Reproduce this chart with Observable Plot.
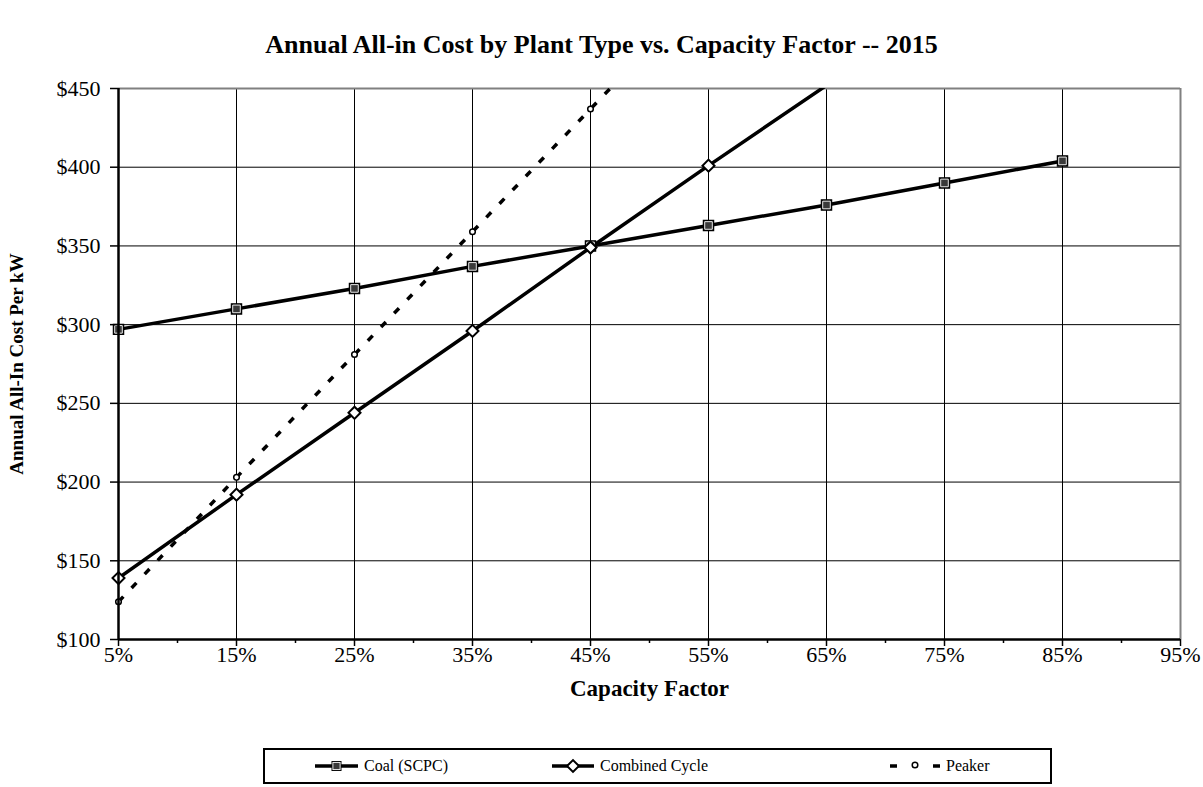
<!DOCTYPE html>
<html><head><meta charset="utf-8">
<script src="https://cdn.jsdelivr.net/npm/d3@7"></script>
<script src="https://cdn.jsdelivr.net/npm/@observablehq/plot@0.6"></script>
<style>
body{margin:0;background:#fff;font-family:"Liberation Serif","Times New Roman",serif;}
#title{width:1203px;height:70px;box-sizing:border-box;padding-top:31px;text-align:center;font-weight:bold;font-size:26px;line-height:28px;}
#chart{height:640px;}
#chart svg{display:block;}
#legend{position:relative;margin-left:263px;margin-top:38px;width:785px;height:32px;border:2px solid #000;}
.item{position:absolute;top:0;height:32px;display:flex;align-items:center;font-size:16px;}
.item svg{display:block;}
</style></head>
<body>
<div id="title">Annual All-in Cost by Plant Type vs. Capacity Factor -- 2015</div>
<div id="chart"></div>
<div id="legend"></div>
<script>
// ---- data ----
const capacity = [5, 15, 25, 35, 45, 55, 65, 75, 85];           // % capacity factor
const coal = [297, 310, 323, 337, 350, 363, 376, 390, 404];      // Coal (SCPC)
const combined = [139, 192, 244, 296, 349, 401, 452];            // Combined Cycle (5%..65%)
const peaker = [124, 203, 281, 359, 437, 515];                   // Peaker (5%..55%)
const xTicks = [5, 15, 25, 35, 45, 55, 65, 75, 85, 95];
const xMinor = [10, 20, 30, 40, 50, 60, 70, 80, 90];
const yTicks = [100, 150, 200, 250, 300, 350, 400, 450];
const seriesNames = ["Coal (SCPC)", "Combined Cycle", "Peaker"];

const coalData = capacity.map((c, i) => ({x: c, y: coal[i]}));
const ccData = combined.map((v, i) => ({x: capacity[i], y: v}));
const pkData = peaker.map((v, i) => ({x: capacity[i], y: v}));
const inside = d => d.y <= 450;

const fontFam = "Liberation Serif, Times New Roman, serif";

const chart = Plot.plot({
  width: 1203,
  height: 640,
  marginLeft: 118,
  marginRight: 23,
  marginTop: 18,
  marginBottom: 71,
  style: {fontFamily: fontFam, fontSize: "22px", background: "white", color: "black"},
  x: {type: "linear", domain: [5, 95]},
  y: {type: "linear", domain: [100, 450]},
  marks: [
    Plot.gridX(xTicks.filter(t => t < 95), {stroke: "black", strokeOpacity: 1, strokeWidth: 1}),
    Plot.gridY(yTicks.filter(t => t > 100 && t < 450), {stroke: "black", strokeOpacity: 1, strokeWidth: 1}),
    Plot.ruleY([450], {stroke: "#808080", strokeWidth: 2}),
    Plot.ruleX([95], {stroke: "#808080", strokeWidth: 2}),
    Plot.line(pkData, {x: "x", y: "y", stroke: "black", strokeWidth: 3.5, strokeDasharray: "7,12", strokeLinecap: "butt", clip: true}),
    Plot.line(coalData, {x: "x", y: "y", stroke: "black", strokeWidth: 3.5, clip: true}),
    Plot.line(ccData, {x: "x", y: "y", stroke: "black", strokeWidth: 3.5, clip: true}),
    Plot.dot(pkData.filter(inside), {x: "x", y: "y", r: 2.8, fill: "white", stroke: "black", strokeWidth: 1.5}),
    Plot.dot(coalData.filter(inside), {x: "x", y: "y", symbol: "square", r: 5.8, fill: "black", stroke: "black", strokeWidth: 1.2}),
    Plot.dot(coalData.filter(inside), {x: "x", y: "y", symbol: "square", r: 4.3, fill: "#3a3a3a", stroke: "white", strokeWidth: 0.9}),
    Plot.dot(ccData.filter(inside), {x: "x", y: "y", symbol: "square", rotate: 45, r: 4.8, fill: "white", stroke: "black", strokeWidth: 2}),
    Plot.ruleX([5], {stroke: "black", strokeWidth: 2.5}),
    Plot.ruleY([100], {stroke: "black", strokeWidth: 2.5}),
    Plot.axisY(yTicks, {tickSize: 8, tickPadding: 10, tickFormat: d => "$" + d, fontSize: 22, label: null, stroke: "black", strokeWidth: 1.5}),
    Plot.axisX(xTicks, {tickSize: 7, tickPadding: 0, tickFormat: d => d + "%", fontSize: 22, label: null, strokeWidth: 1.5}),
    Plot.axisX(xMinor, {tickSize: 4, text: null, label: null, strokeWidth: 1.5}),
    Plot.text(["Capacity Factor"], {frameAnchor: "bottom", dy: 49, lineAnchor: "middle", fontWeight: "bold", fontSize: 23}),
    Plot.text(["Annual All-In Cost Per kW"], {frameAnchor: "left", dx: -102, rotate: -90, textAnchor: "middle", lineAnchor: "middle", fontWeight: "bold", fontSize: 19})
  ]
});
document.getElementById("chart").appendChild(chart);

// ---- legend ----
const legend = document.getElementById("legend");
const items = [
  {name: seriesNames[0], left: 50, textLeft: 99, kind: "coal"},
  {name: seriesNames[1], left: 287, textLeft: 335, kind: "cc"},
  {name: seriesNames[2], left: 625, textLeft: 681, kind: "pk"}
];
items.forEach(it => {
  const div = document.createElement("div");
  div.className = "item";
  div.style.left = it.left + "px";
  const ns = "http://www.w3.org/2000/svg";
  const svg = document.createElementNS(ns, "svg");
  svg.setAttribute("width", it.textLeft - it.left - 4);
  svg.setAttribute("height", 16);
  const w = it.textLeft - it.left - 6;
  const mk = (tag, attrs) => { const e = document.createElementNS(ns, tag); for (const k in attrs) e.setAttribute(k, attrs[k]); svg.appendChild(e); return e; };
  if (it.kind === "pk") {
    mk("line", {x1: 0, x2: w, y1: 8, y2: 8, stroke: "black", "stroke-width": 3.5, "stroke-dasharray": `7,${w - 14}`});
    mk("circle", {cx: w / 2, cy: 7, r: 2.8, fill: "white", stroke: "black", "stroke-width": 1.5});
  } else {
    mk("line", {x1: 0, x2: w, y1: 8, y2: 8, stroke: "black", "stroke-width": 3.5});
    if (it.kind === "coal") {
      mk("rect", {x: w / 2 - 5, y: 3, width: 10, height: 10, fill: "black"});
      mk("rect", {x: w / 2 - 3.6, y: 4.4, width: 7.2, height: 7.2, fill: "#3a3a3a", stroke: "white", "stroke-width": 0.9});
    } else mk("rect", {x: w / 2 - 4.2, y: 3.8, width: 8.4, height: 8.4, fill: "white", stroke: "black", "stroke-width": 2, transform: `rotate(45 ${w / 2} 8)`});
  }
  div.appendChild(svg);
  const span = document.createElement("span");
  span.textContent = it.name;
  span.style.marginLeft = "4px";
  div.appendChild(span);
  legend.appendChild(div);
});
</script>
</body></html>
